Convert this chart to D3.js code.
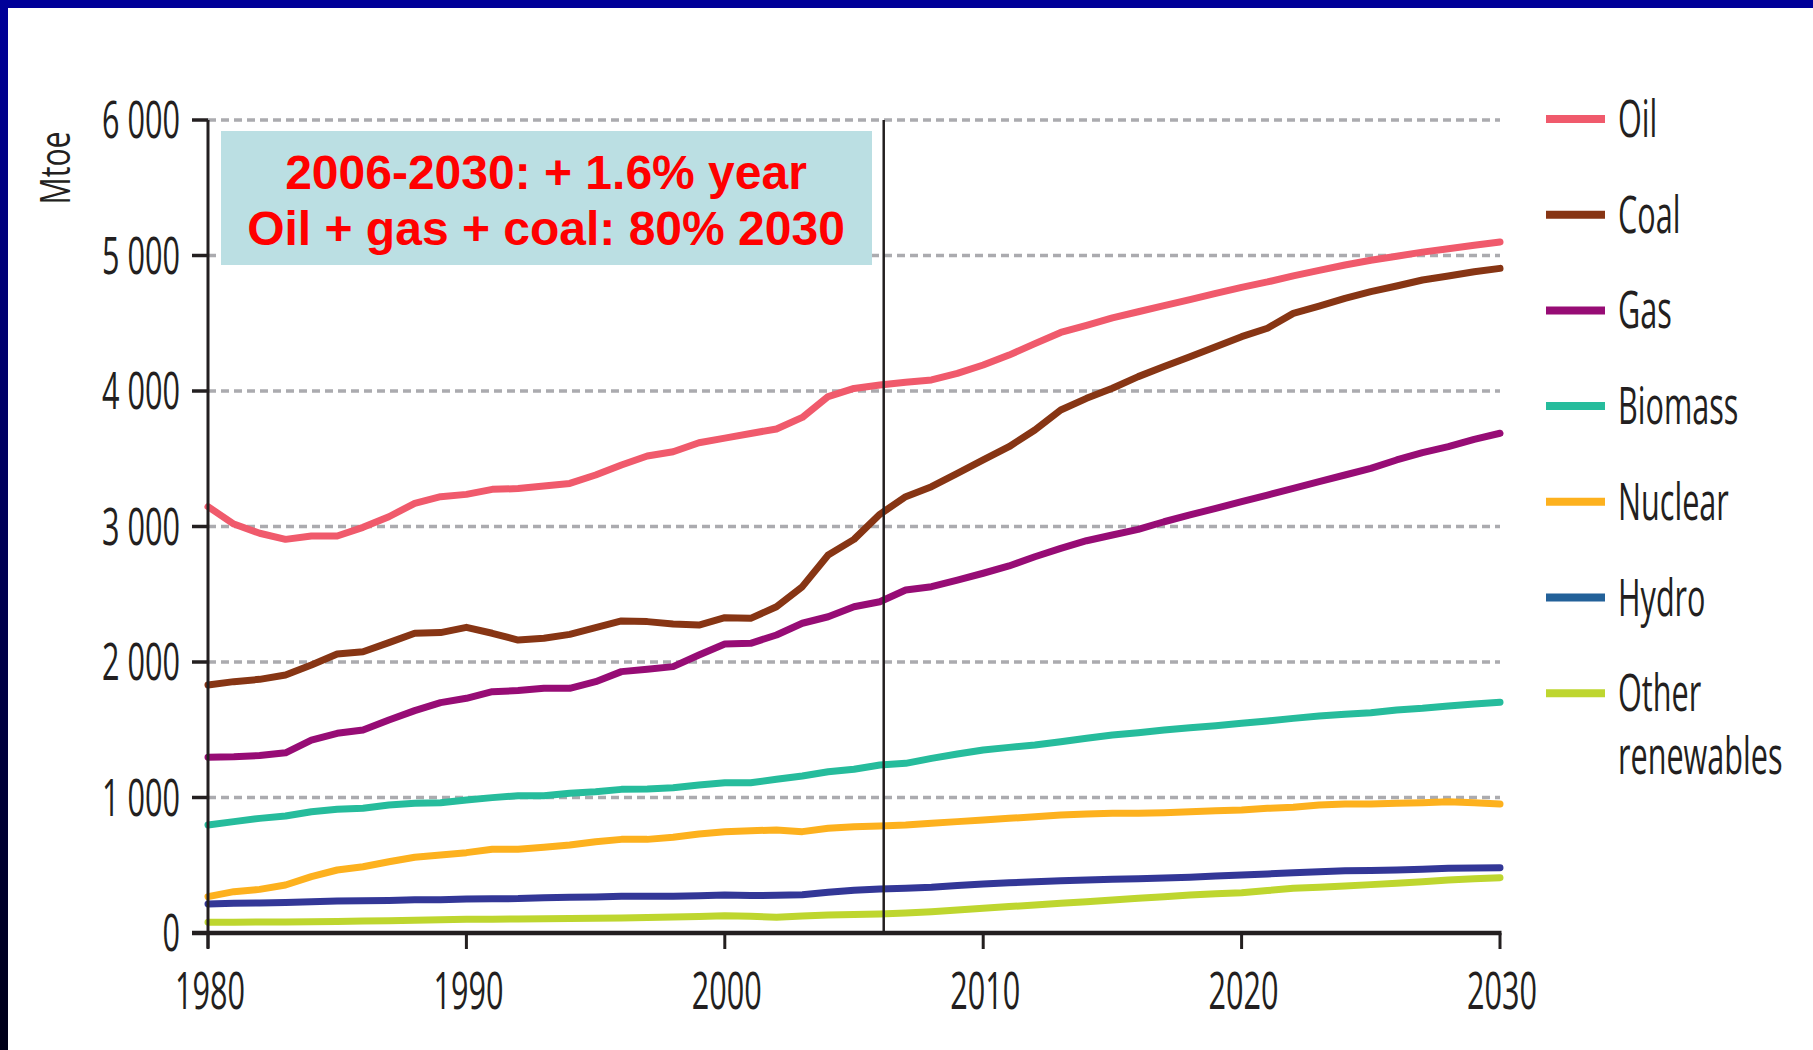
<html>
<head>
  <meta charset="utf-8">
  <title>World primary energy demand</title>
  <script src="https://d3js.org/d3.v7.min.js"></script>
  <style>
    body { margin: 0; background: #fff; }
  </style>
</head>
<body>
<script>
// data, Mtoe per year 1980-2030
var years = d3.range(1980, 2031);
var oil = [3146, 3018, 2950, 2905, 2930, 2930, 2994, 3072, 3171, 3220,
           3237, 3274, 3280, 3299, 3318, 3380, 3454, 3520, 3552, 3618,
           3652, 3686, 3720, 3805, 3959, 4019, 4044, 4065, 4082, 4130,
           4192, 4265, 4350, 4432, 4485, 4540, 4585, 4630, 4675, 4720,
           4765, 4805, 4850, 4890, 4930, 4965, 4995, 5025, 5050, 5075, 5100];
var coal = [1830, 1855, 1872, 1904, 1978, 2059, 2076, 2143, 2212, 2217,
            2256, 2212, 2162, 2175, 2204, 2253, 2303, 2298, 2280, 2273,
            2327, 2322, 2408, 2556, 2790, 2905, 3090, 3220, 3294, 3392,
            3491, 3589, 3712, 3860, 3946, 4020, 4106, 4180, 4253, 4327,
            4401, 4463, 4573, 4627, 4684, 4733, 4775, 4819, 4849, 4880, 4905];
var gas = [1297, 1300, 1310, 1330, 1424, 1474, 1498, 1572, 1641, 1700,
           1732, 1781, 1789, 1806, 1806, 1855, 1929, 1946, 1966, 2052,
           2133, 2138, 2199, 2286, 2334, 2408, 2445, 2531, 2556, 2605,
           2655, 2709, 2777, 2839, 2895, 2937, 2979, 3035, 3085, 3134,
           3183, 3232, 3282, 3331, 3380, 3429, 3491, 3545, 3589, 3643, 3688];
var biomass = [797, 822, 846, 863, 895, 913, 920, 945, 957, 962,
               982, 999, 1013, 1013, 1031, 1043, 1060, 1063, 1072, 1092,
               1109, 1109, 1134, 1159, 1190, 1208, 1240, 1252, 1289, 1321,
               1351, 1370, 1387, 1412, 1437, 1461, 1478, 1498, 1515, 1530,
               1548, 1565, 1584, 1601, 1614, 1626, 1646, 1658, 1675, 1690, 1703];
var nuclear = [268, 305, 322, 354, 416, 465, 489, 526, 559, 576,
               593, 618, 618, 632, 649, 674, 691, 691, 706, 731,
               748, 755, 760, 748, 773, 785, 790, 797, 810, 822,
               834, 846, 858, 871, 878, 883, 883, 888, 895, 903,
               908, 920, 928, 945, 952, 952, 957, 962, 969, 962, 952];
var hydro = [214, 220, 222, 225, 231, 236, 238, 240, 245, 246,
             251, 253, 254, 261, 264, 266, 271, 272, 272, 274,
             280, 276, 279, 282, 300, 315, 325, 330, 337, 350,
             362, 370, 379, 385, 391, 396, 401, 406, 411, 420,
             428, 436, 445, 452, 460, 462, 465, 471, 477, 480, 482];
var other = [79, 80, 81, 82, 83, 84, 88, 91, 94, 97,
             101, 102, 104, 105, 107, 108, 111, 114, 118, 122,
             128, 124, 116, 125, 133, 136, 140, 148, 157, 170,
             182, 195, 207, 219, 231, 244, 256, 268, 280, 289,
             297, 313, 330, 338, 347, 357, 367, 379, 391, 400, 408];

var seriesNames = ["Oil", "Coal", "Gas", "Biomass", "Nuclear", "Hydro", "Other renewables"];
var seriesValues = [oil, coal, gas, biomass, nuclear, hydro, other];
var lineColors = ["#F05A6C", "#873514", "#970C75", "#26BC9C", "#FDB11E", "#333797", "#BED62F"];
var legendColors = ["#F05A6C", "#873514", "#970C75", "#26BC9C", "#FDB11E", "#236199", "#BED62F"];

var yTicks = [0, 1000, 2000, 3000, 4000, 5000, 6000];
var xTicks = [1980, 1990, 2000, 2010, 2020, 2030];
var dividerYear = 2006.15;
var noteLines = ["2006-2030: + 1.6% year", "Oil + gas + coal: 80% 2030"];

var W = 1813, H = 1050;
var plotL = 208, plotR = 1500, plotT = 120, plotB = 933;
var squeeze = 0.6;   // the source font is a narrow one
var fontFam = "'Open Sans', sans-serif";
var ink = "#231F20";

var svg = d3.select("body").append("svg")
  .attr("width", W).attr("height", H);

// slide frame
var defs = svg.append("defs");
var grad = defs.append("linearGradient").attr("id", "edge")
  .attr("x1", 0).attr("y1", 0).attr("x2", 0).attr("y2", 1);
grad.append("stop").attr("offset", "0%").attr("stop-color", "#000099");
grad.append("stop").attr("offset", "100%").attr("stop-color", "#000018");
svg.append("rect").attr("x", 0).attr("y", 0).attr("width", W).attr("height", 8).attr("fill", "#000099");
svg.append("rect").attr("x", 0).attr("y", 0).attr("width", 8).attr("height", H).attr("fill", "url(#edge)");

var x = d3.scaleLinear().domain([1980, 2030]).range([plotL, plotR]);
var y = d3.scaleLinear().domain([0, 6000]).range([plotB, plotT]);

// grid
svg.append("g").selectAll("line")
  .data(yTicks.filter(function(d){ return d > 0; }))
  .enter().append("line")
  .attr("x1", plotL).attr("x2", plotR)
  .attr("y1", function(d){ return y(d); }).attr("y2", function(d){ return y(d); })
  .attr("stroke", "#ABABAF").attr("stroke-width", 3.5)
  .attr("stroke-dasharray", "8,5");

// note box
var note = svg.append("g");
note.append("rect").attr("x", 221).attr("y", 131).attr("width", 651).attr("height", 134)
  .attr("fill", "#BBDFE3");
note.selectAll("text").data(noteLines).enter().append("text")
  .attr("x", 546).attr("y", function(d, i){ return 189 + i * 56; })
  .attr("text-anchor", "middle")
  .attr("font-family", "'Liberation Sans', Arial, sans-serif")
  .attr("font-weight", "bold").attr("font-size", 48)
  .attr("fill", "#FF0000")
  .text(function(d){ return d; });

// lines
var line = d3.line()
  .x(function(d, i){ return x(years[i]); })
  .y(function(d){ return y(d); });

var order = [6, 5, 4, 3, 2, 1, 0];
svg.append("g").selectAll("path")
  .data(order.map(function(k){ return {k: k, v: seriesValues[k]}; }))
  .enter().append("path")
  .attr("d", function(d){ return line(d.v); })
  .attr("fill", "none")
  .attr("stroke", function(d){ return lineColors[d.k]; })
  .attr("stroke-width", 7)
  .attr("stroke-linejoin", "round")
  .attr("stroke-linecap", "round");

// 2006 divider
svg.append("line")
  .attr("x1", x(dividerYear)).attr("x2", x(dividerYear))
  .attr("y1", y(6000)).attr("y2", y(0))
  .attr("stroke", ink).attr("stroke-width", 2.5);

// axes
var yAxis = svg.append("g");
yAxis.append("line").attr("x1", plotL).attr("x2", plotL)
  .attr("y1", y(6000)).attr("y2", plotB + 15)
  .attr("stroke", ink).attr("stroke-width", 3);
yAxis.selectAll(".tick").data(yTicks).enter().append("line")
  .attr("x1", plotL - 16).attr("x2", plotL)
  .attr("y1", function(d){ return y(d); }).attr("y2", function(d){ return y(d); })
  .attr("stroke", ink).attr("stroke-width", 3.5);
yAxis.selectAll("text").data(yTicks).enter().append("text")
  .attr("transform", function(d){ return "translate(" + 180 + "," + (y(d) + 18) + ") scale(" + squeeze + ",1)"; })
  .attr("text-anchor", "end")
  .attr("font-family", fontFam).attr("font-size", 51).attr("fill", ink)
  .text(function(d){ return d3.format(",")(d).replace(",", " "); });

var xAxis = svg.append("g");
xAxis.append("line").attr("x1", plotL - 16).attr("x2", plotR + 1.5)
  .attr("y1", plotB).attr("y2", plotB)
  .attr("stroke", ink).attr("stroke-width", 4.5);
xAxis.selectAll(".tick").data(xTicks).enter().append("line")
  .attr("x1", function(d){ return x(d); }).attr("x2", function(d){ return x(d); })
  .attr("y1", plotB).attr("y2", plotB + 16)
  .attr("stroke", ink).attr("stroke-width", 3);
xAxis.selectAll("text").data(xTicks).enter().append("text")
  .attr("transform", function(d){ return "translate(" + (x(d) + 2) + "," + 1009 + ") scale(" + squeeze + ",1)"; })
  .attr("text-anchor", "middle")
  .attr("font-family", fontFam).attr("font-size", 51).attr("fill", ink)
  .text(function(d){ return d; });

svg.append("text")
  .attr("transform", "translate(70,168) rotate(-90) scale(0.72,1)")
  .attr("text-anchor", "middle")
  .attr("font-family", fontFam).attr("font-size", 42).attr("fill", ink)
  .text("Mtoe");

// legend
var legend = svg.append("g").selectAll("g")
  .data(seriesNames).enter().append("g")
  .attr("transform", function(d, i){ return "translate(1546," + (119 + i * 95.7) + ")"; });
legend.append("line")
  .attr("x1", 0).attr("x2", 59).attr("y1", 0).attr("y2", 0)
  .attr("stroke", function(d, i){ return legendColors[i]; })
  .attr("stroke-width", 8);
legend.each(function(d){
  var words = d == "Other renewables" ? ["Other", "renewables"] : [d];
  var g = d3.select(this);
  words.forEach(function(w, j){
    g.append("text")
      .attr("transform", "translate(72," + (18 + j * 63) + ") scale(" + squeeze + ",1)")
      .attr("font-family", fontFam).attr("font-size", 51).attr("fill", ink)
      .text(w);
  });
});
</script>
</body>
</html>
